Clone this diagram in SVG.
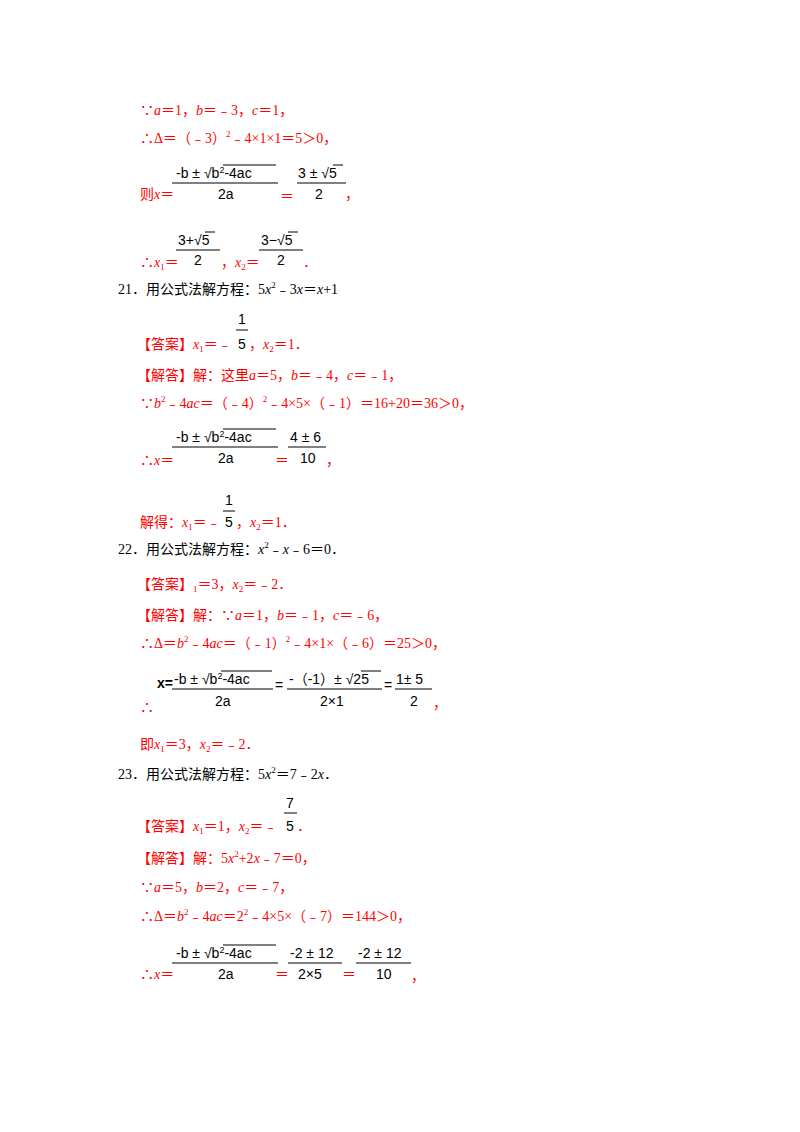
<svg xmlns="http://www.w3.org/2000/svg" width="800" height="1132" viewBox="0 0 800 1132">
<style>
text{font-family:"Liberation Serif","Noto Sans CJK SC",serif;font-size:14px}
.r{fill:#ff0000}
.k{fill:#000}
.m{font-family:"Liberation Sans","Noto Sans CJK SC",sans-serif;font-size:14px;fill:#000}
.mr{font-family:"Liberation Sans","Noto Sans CJK SC",sans-serif;font-size:14px;fill:#ff0000}
.s{font-size:9px}
line{stroke:#000;stroke-width:1}
</style>
<rect width="800" height="1132" fill="#fff"/>
<g class="r">
<text x="140" y="115" class="r">∵<tspan font-style="italic">a</tspan>＝1，<tspan font-style="italic">b</tspan>＝﹣3，<tspan font-style="italic">c</tspan>＝1，</text>
<text x="140" y="143" class="r">∴Δ＝（﹣3）<tspan dy="-6" class="s">2</tspan><tspan dy="6">﹣4×1×1＝5＞0，</tspan></text>
<text x="140" y="199" class="r">则<tspan font-style="italic">x</tspan>＝</text>
<text x="176" y="178" class="m">-b ± √b<tspan dy="-5" class="s">2</tspan><tspan dy="5">-4ac</tspan></text>
<line x1="223" y1="165" x2="276" y2="165"/>
<line x1="172" y1="183" x2="278" y2="183"/>
<text x="218" y="199" class="m">2a</text>
<text x="280" y="201" class="mr">＝</text>
<text x="298" y="178" class="m">3 ± √5</text>
<line x1="333" y1="165" x2="343" y2="165"/>
<line x1="297" y1="183" x2="346" y2="183"/>
<text x="315" y="199" class="m">2</text>
<text x="345" y="199" class="r">，</text>
<text x="140" y="267" class="r">∴<tspan font-style="italic">x</tspan><tspan dy="3" class="s">1</tspan><tspan dy="-3">＝</tspan></text>
<text x="178" y="245" class="m">3+√5</text>
<line x1="205" y1="232" x2="215" y2="232"/>
<line x1="176" y1="250" x2="220" y2="250"/>
<text x="194" y="265" class="m">2</text>
<text x="221" y="267" class="r">，<tspan font-style="italic">x</tspan><tspan dy="3" class="s">2</tspan><tspan dy="-3">＝</tspan></text>
<text x="261" y="245" class="m">3−√5</text>
<line x1="288" y1="232" x2="298" y2="232"/>
<line x1="259" y1="250" x2="303" y2="250"/>
<text x="277" y="265" class="m">2</text>
<text x="303" y="267" class="r">．</text>
</g>
<text x="118" y="294" class="k">21．用公式法解方程：5<tspan font-style="italic">x</tspan><tspan dy="-6" class="s">2</tspan><tspan dy="6">﹣3</tspan><tspan font-style="italic">x</tspan>＝<tspan font-style="italic">x</tspan>+1</text>
<text x="137" y="349" class="r">【答案】<tspan font-style="italic">x</tspan><tspan dy="3" class="s">1</tspan><tspan dy="-3">＝﹣</tspan></text>
<text x="238" y="324" class="m">1</text>
<line x1="236" y1="330" x2="248" y2="330"/>
<text x="238" y="349" class="m">5</text>
<text x="249" y="349" class="r">，<tspan font-style="italic">x</tspan><tspan dy="3" class="s">2</tspan><tspan dy="-3">＝1．</tspan></text>
<text x="137" y="380" class="r">【解答】解：这里<tspan font-style="italic">a</tspan>＝5，<tspan font-style="italic">b</tspan>＝﹣4，<tspan font-style="italic">c</tspan>＝﹣1，</text>
<text x="140" y="408" class="r">∵<tspan font-style="italic">b</tspan><tspan dy="-6" class="s">2</tspan><tspan dy="6">﹣4</tspan><tspan font-style="italic">ac</tspan>＝（﹣4）<tspan dy="-6" class="s">2</tspan><tspan dy="6">﹣4×5×（﹣1）＝16+20＝36＞0，</tspan></text>
<text x="140" y="465" class="r">∴<tspan font-style="italic">x</tspan>＝</text>
<text x="176" y="442" class="m">-b ± √b<tspan dy="-5" class="s">2</tspan><tspan dy="5">-4ac</tspan></text>
<line x1="223" y1="429" x2="276" y2="429"/>
<line x1="172" y1="447" x2="278" y2="447"/>
<text x="218" y="463" class="m">2a</text>
<text x="275" y="465" class="mr">＝</text>
<text x="290" y="442" class="m">4 ± 6</text>
<line x1="288" y1="447" x2="326" y2="447"/>
<text x="300" y="463" class="m">10</text>
<text x="326" y="465" class="r">，</text>
<text x="140" y="527" class="r">解得：<tspan font-style="italic">x</tspan><tspan dy="3" class="s">1</tspan><tspan dy="-3">＝﹣</tspan></text>
<text x="225" y="505" class="m">1</text>
<line x1="223" y1="511" x2="235" y2="511"/>
<text x="225" y="527" class="m">5</text>
<text x="236" y="527" class="r">，<tspan font-style="italic">x</tspan><tspan dy="3" class="s">2</tspan><tspan dy="-3">＝1．</tspan></text>
<text x="118" y="554" class="k">22．用公式法解方程：<tspan font-style="italic">x</tspan><tspan dy="-6" class="s">2</tspan><tspan dy="6">﹣</tspan><tspan font-style="italic">x</tspan>﹣6＝0．</text>
<text x="137" y="589" class="r">【答案】<tspan dy="3" class="s">1</tspan><tspan dy="-3">＝3，</tspan><tspan font-style="italic">x</tspan><tspan dy="3" class="s">2</tspan><tspan dy="-3">＝﹣2．</tspan></text>
<text x="137" y="620" class="r">【解答】解：∵<tspan font-style="italic">a</tspan>＝1，<tspan font-style="italic">b</tspan>＝﹣1，<tspan font-style="italic">c</tspan>＝﹣6，</text>
<text x="140" y="648" class="r">∴Δ＝<tspan font-style="italic">b</tspan><tspan dy="-6" class="s">2</tspan><tspan dy="6">﹣4</tspan><tspan font-style="italic">ac</tspan>＝（﹣1）<tspan dy="-6" class="s">2</tspan><tspan dy="6">﹣4×1×（﹣6）＝25＞0，</tspan></text>
<text x="140" y="712" class="r">∴</text>
<text x="157" y="688" class="m" font-weight="bold">x=</text>
<text x="174" y="684" class="m">-b ± √b<tspan dy="-5" class="s">2</tspan><tspan dy="5">-4ac</tspan></text>
<line x1="221" y1="671" x2="272" y2="671"/>
<line x1="172" y1="689" x2="273" y2="689"/>
<text x="215" y="706" class="m">2a</text>
<text x="275" y="690" class="m">=</text>
<text x="289" y="684" class="m">-（-1）± √25</text>
<line x1="361" y1="671" x2="381" y2="671"/>
<line x1="287" y1="689" x2="382" y2="689"/>
<text x="320" y="706" class="m">2×1</text>
<text x="384" y="690" class="m">=</text>
<text x="396" y="684" class="m">1± 5</text>
<line x1="395" y1="689" x2="432" y2="689"/>
<text x="410" y="706" class="m">2</text>
<text x="433" y="708" class="r">，</text>
<text x="140" y="749" class="r">即<tspan font-style="italic">x</tspan><tspan dy="3" class="s">1</tspan><tspan dy="-3">＝3，</tspan><tspan font-style="italic">x</tspan><tspan dy="3" class="s">2</tspan><tspan dy="-3">＝﹣2．</tspan></text>
<text x="118" y="779" class="k">23．用公式法解方程：5<tspan font-style="italic">x</tspan><tspan dy="-6" class="s">2</tspan><tspan dy="6">＝7﹣2</tspan><tspan font-style="italic">x</tspan>．</text>
<text x="137" y="831" class="r">【答案】<tspan font-style="italic">x</tspan><tspan dy="3" class="s">1</tspan><tspan dy="-3">＝1，</tspan><tspan font-style="italic">x</tspan><tspan dy="3" class="s">2</tspan><tspan dy="-3">＝﹣</tspan></text>
<text x="286" y="808" class="m">7</text>
<line x1="284" y1="813" x2="297" y2="813"/>
<text x="286" y="831" class="m">5</text>
<text x="297" y="831" class="r">．</text>
<text x="137" y="863" class="r">【解答】解：5<tspan font-style="italic">x</tspan><tspan dy="-6" class="s">2</tspan><tspan dy="6">+2</tspan><tspan font-style="italic">x</tspan>﹣7＝0，</text>
<text x="140" y="892" class="r">∵<tspan font-style="italic">a</tspan>＝5，<tspan font-style="italic">b</tspan>＝2，<tspan font-style="italic">c</tspan>＝﹣7，</text>
<text x="140" y="921" class="r">∴Δ＝<tspan font-style="italic">b</tspan><tspan dy="-6" class="s">2</tspan><tspan dy="6">﹣4</tspan><tspan font-style="italic">ac</tspan>＝2<tspan dy="-6" class="s">2</tspan><tspan dy="6">﹣4×5×（﹣7）＝144＞0，</tspan></text>
<text x="140" y="979" class="r">∴<tspan font-style="italic">x</tspan>＝</text>
<text x="176" y="958" class="m">-b ± √b<tspan dy="-5" class="s">2</tspan><tspan dy="5">-4ac</tspan></text>
<line x1="223" y1="945" x2="276" y2="945"/>
<line x1="172" y1="963" x2="278" y2="963"/>
<text x="218" y="979" class="m">2a</text>
<text x="275" y="979" class="mr">＝</text>
<text x="290" y="958" class="m">-2 ± 12</text>
<line x1="288" y1="963" x2="342" y2="963"/>
<text x="298" y="979" class="m">2×5</text>
<text x="342" y="979" class="mr">＝</text>
<text x="358" y="958" class="m">-2 ± 12</text>
<line x1="356" y1="963" x2="411" y2="963"/>
<text x="376" y="979" class="m">10</text>
<text x="411" y="981" class="r">，</text>
</svg>
